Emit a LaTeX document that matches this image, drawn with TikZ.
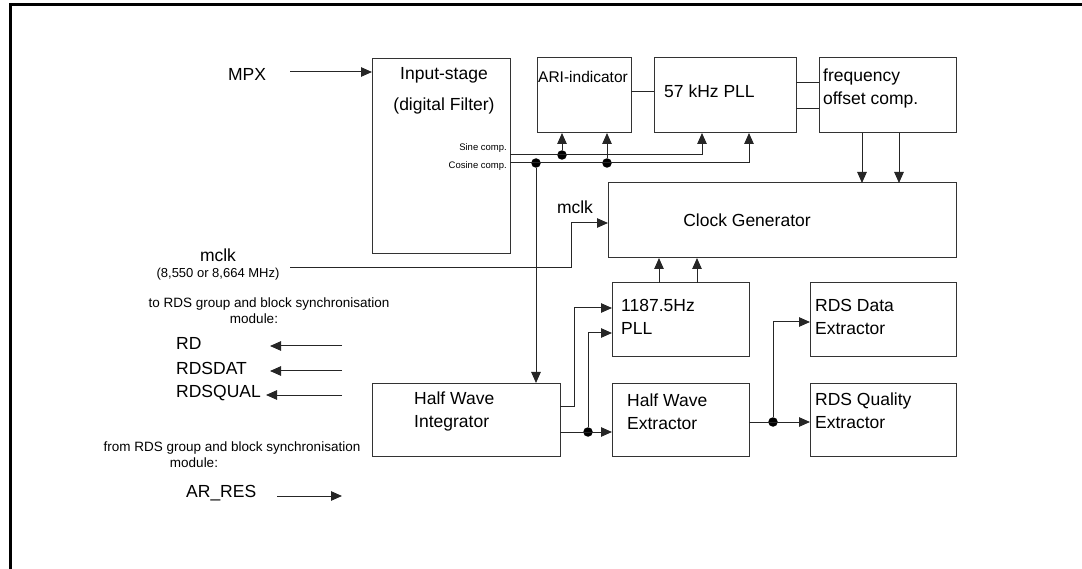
\documentclass[tikz,border=0pt]{standalone}
\usepackage{fontspec}
\setmainfont{Liberation Sans}
\usetikzlibrary{arrows.meta}
\newcommand{\fs}[2]{\fontsize{#1}{#2}\selectfont}
\begin{document}
\begin{tikzpicture}[x=1pt,y=-1pt,
  box/.style={draw=black!80, line width=1pt, anchor=north west, inner sep=0pt, outer sep=0pt},
  wire/.style={draw=black!85, line width=1pt},
  arr/.style={wire, -{Triangle[length=11pt,width=9.5pt]}},
  dot/.style={circle, fill=black, inner sep=0pt, minimum size=9.5pt},
  lbl/.style={inner sep=0pt, font=\fs{17.5}{23}},
  lft/.style={lbl, anchor=west, align=left},
  sml/.style={inner sep=0pt, font=\fs{13.5}{15}},
  tny/.style={inner sep=0pt, font=\fs{9.5}{11}, anchor=east}
]
\useasboundingbox (0,0) rectangle (1082,569);
% frame
\draw[line width=3pt, black] (10,569) -- (10,5) -- (1082,5);
% boxes
\node[box, minimum width=138pt, minimum height=195pt] (inp) at (372,59) {};
\node[box, minimum width=94pt, minimum height=75pt] (ari) at (537,58) {};
\node[box, minimum width=142pt, minimum height=75pt] (pll) at (654,58) {};
\node[box, minimum width=137pt, minimum height=75pt] (foc) at (819,58) {};
\node[box, minimum width=348pt, minimum height=75pt] (clk) at (608,183) {};
\node[box, minimum width=137pt, minimum height=74pt] (pllb) at (612,283) {};
\node[box, minimum width=188pt, minimum height=73pt] (hwi) at (372,383) {};
\node[box, minimum width=137pt, minimum height=73pt] (hwe) at (612,383) {};
\node[box, minimum width=146pt, minimum height=74pt] (rdd) at (810,283) {};
\node[box, minimum width=146pt, minimum height=73pt] (rdq) at (810,383) {};
% box texts
\node[lbl, align=center, font=\fs{17.5}{31}] (tinp) at (444,90.5) {Input-stage\\(digital Filter)};
\node[tny] (tsin) at (507,148) {Sine comp.};
\node[tny] (tcos) at (507,166) {Cosine comp.};
\node[lft, font=\fs{15.5}{18}] (tari) at (538,77) {ARI-indicator};
\node[lft] (tpll) at (664,91) {57 kHz PLL};
\node[lft] (tfoc) at (823,88.5) {frequency\\offset comp.};
\node[lbl] (tclk) at (747,220) {Clock Generator};
\node[lft] (tpllb) at (621,316.5) {1187.5Hz\\PLL};
\node[lft] (thwi) at (414,411.5) {Half Wave\\Integrator};
\node[lft] (thwe) at (627,411.5) {Half Wave\\Extractor};
\node[lft] (trdd) at (815,316.5) {RDS Data\\Extractor};
\node[lft] (trdq) at (815,411) {RDS Quality\\Extractor};
% outside labels
\node[lbl] (tmpx) at (247,74) {MPX};
\node[lbl] (tmclk) at (218,255) {mclk};
\node[inner sep=0pt, font=\fs{13}{15}] (tmhz) at (218,274) {(8,550 or 8,664 MHz)};
\node[lbl] (tmclkb) at (575,207) {mclk};
\node[sml] (tto) at (269,304) {to RDS group and block synchronisation};
\node[sml] (tmod1) at (254,319) {module:};
\node[lbl, anchor=west] (trd) at (176,343) {RD};
\node[lbl, anchor=west] (trdsdat) at (176,368) {RDSDAT};
\node[lbl, anchor=west] (trdsqual) at (176,393) {RDSQUAL};
\node[sml] (tfrom) at (232,448) {from RDS group and block synchronisation};
\node[sml] (tmod2) at (194,463) {module:};
\node[lbl, anchor=west] (tares) at (186,493) {AR\_RES};
% free ends
\coordinate (mpxs) at (290,72);
\coordinate (mclks) at (290,268);
\coordinate (rds1) at (342,346);  \coordinate (rde1) at (270,346);
\coordinate (rds2) at (342,371);  \coordinate (rde2) at (270,371);
\coordinate (rds3) at (342,395);  \coordinate (rde3) at (266,395);
\coordinate (ars) at (277,496);   \coordinate (are) at (342,496);
% junctions
\node[dot] (d1) at (562,155) {};
\node[dot] (d2) at (607,163) {};
\node[dot] (d3) at (536,163) {};
\node[dot] (d4) at (588,432) {};
\node[dot] (d5) at (773,422) {};
% connectors
\draw[arr] (mpxs) -- (inp.west |- mpxs);
\draw[arr] (inp.east |- 0,155) -| (pll.south -| 702,0);
\draw[arr] (inp.east |- 0,163) -| (pll.south -| 749,0);
\draw[arr] (d1) -- (ari.south -| d1);
\draw[arr] (d2) -- (ari.south -| d2);
\draw[arr] (d3) -- (hwi.north -| d3);
\draw[wire] (ari.east |- 0,92) -- (pll.west |- 0,92);
\draw[wire] (pll.east |- 0,83) -- (foc.west |- 0,83);
\draw[wire] (pll.east |- 0,109) -- (foc.west |- 0,109);
\draw[arr] (foc.south -| 862,0) -- (clk.north -| 862,0);
\draw[arr] (foc.south -| 899,0) -- (clk.north -| 899,0);
\draw[arr] (mclks) -- (571,268) -- (571,223) -- (clk.west |- 0,223);
\draw[arr] (pllb.north -| 659,0) -- (clk.south -| 659,0);
\draw[arr] (pllb.north -| 697,0) -- (clk.south -| 697,0);
\draw[arr] (hwi.east |- 0,406) -- (574,406) |- (pllb.west |- 0,308);
\draw[arr] (hwi.east |- 0,432) -- (hwe.west |- 0,432);
\draw[arr] (d4) |- (pllb.west |- 0,333);
\draw[arr] (hwe.east |- 0,422) -- (rdq.west |- 0,422);
\draw[arr] (d5) |- (rdd.west |- 0,322);
\draw[arr] (rds1) -- (rde1);
\draw[arr] (rds2) -- (rde2);
\draw[arr] (rds3) -- (rde3);
\draw[arr] (ars) -- (are);
\end{tikzpicture}
\end{document}
